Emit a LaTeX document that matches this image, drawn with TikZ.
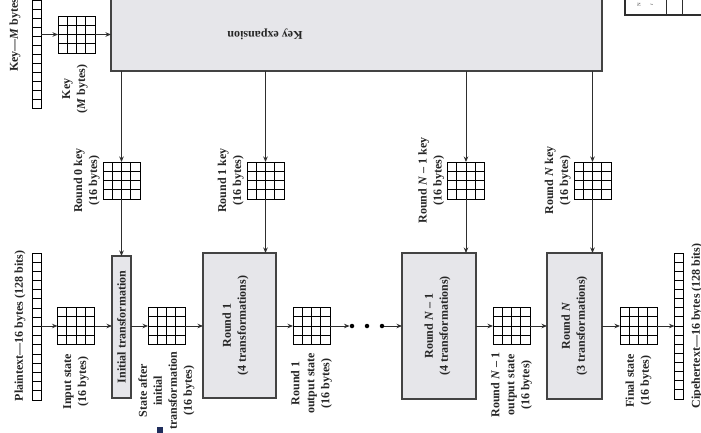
\documentclass[tikz,border=0pt]{standalone}
\usepackage{fontspec}
\setmainfont{Liberation Serif}
\usetikzlibrary{arrows.meta,calc}
\definecolor{boxgray}{HTML}{E6E6EA}
\definecolor{ink}{HTML}{2E2E2E}
\definecolor{navymark}{HTML}{1F2D5C}
\begin{document}
\begin{tikzpicture}[x=1pt,y=-1pt,
  conn/.style={draw=ink, line width=0.9pt},
  arr/.style={conn, -{Stealth[length=5.5pt,width=4.5pt]}},
  stage/.style={draw=ink!90, line width=1.4pt, fill=boxgray, inner sep=0pt, outer sep=0pt},
  lbl/.style={font=\fontsize{12}{15}\selectfont\bfseries, rotate=90, align=center, inner sep=0pt, text=black!85},
  % 4x4 state matrix
  state/.style={draw=black, line width=1pt, minimum size=37pt, inner sep=0pt, outer sep=0pt,
    path picture={
      \foreach \t in {0.25,0.5,0.75} {
        \draw[line width=1pt]
          ($(path picture bounding box.north west)!\t!(path picture bounding box.north east)$) --
          ($(path picture bounding box.south west)!\t!(path picture bounding box.south east)$);
        \draw[line width=1pt]
          ($(path picture bounding box.north west)!\t!(path picture bounding box.south west)$) --
          ($(path picture bounding box.north east)!\t!(path picture bounding box.south east)$);
      }}},
  % column of byte cells: #1 = height, #2 = number of cells
  bytes/.style 2 args={draw=black, line width=1pt, minimum width=9pt, minimum height=#1,
    inner sep=0pt, outer sep=0pt,
    path picture={
      \foreach \k in {1,...,#2} {
        \draw[line width=1pt]
          ($(path picture bounding box.north west)!\k/#2!(path picture bounding box.south west)$) --
          ($(path picture bounding box.north east)!\k/#2!(path picture bounding box.south east)$);
      }}},
  dot/.style={circle, fill=black, inner sep=0pt, minimum size=4.5pt},
]
\useasboundingbox (0,0) rectangle (701,432);

% ---------- key schedule ----------
\node[bytes={117pt}{13}] (kc) at (36.5,49.5) {};
\node[lbl, anchor=west] (kcl) at (15,72) {Key—\textit{M} bytes};
\node[state] (kg) at (76.5,34.5) {};
\node[lbl] (kgl) at (75,89) {Key\\(\textit{M} bytes)};
\node[stage, minimum width=491pt, minimum height=77pt] (ke) at (356.5,32.5) {};
\node[lbl, rotate=90] (kel) at (265,34) {Key expansion};

\node[state] (k0) at (121.5,180.5) {};
\node[state] (k1) at (265.5,180.5) {};
\node[state] (kn1) at (466,180.5) {};
\node[state] (kn) at (592.5,180.5) {};
\node[lbl, anchor=south] (k0l) at ($(k0.west)+(-3,0)$) {Round 0 key\\(16 bytes)};
\node[lbl, anchor=south] (k1l) at ($(k1.west)+(-3,0)$) {Round 1 key\\(16 bytes)};
\node[lbl, anchor=south] (kn1l) at ($(kn1.west)+(-3,0)$) {Round \textit{N} – 1 key\\(16 bytes)};
\node[lbl, anchor=south] (knl) at ($(kn.west)+(-3,0)$) {Round \textit{N} key\\(16 bytes)};

% ---------- data path ----------
\node[bytes={147pt}{16}] (pt) at (36.5,326.5) {};
\node[lbl] (ptl) at (20,326) {Plaintext—16 bytes (128 bits)};
\node[state] (in) at (76,326) {};
\node[lbl, anchor=east] (inl) at ($(in.south)+(0,9)$) {Input state\\(16 bytes)};
\node[stage, minimum width=19pt, minimum height=142pt] (init) at (121.5,327) {};
\node[lbl] (initl) at (init.center) {Initial transformation};
\node[state] (s0) at (166.5,326) {};
\node[lbl, anchor=east] (s0l) at ($(s0.south)+(0,7)$) {State after\\initial\\transformation\\(16 bytes)};
\node[stage, minimum width=73pt, minimum height=145pt] (r1) at (239.5,325.5) {};
\node[lbl] (r1l) at ($(r1.center)+(-4,0)$) {Round 1\\(4 transformations)};
\node[state] (o1) at (311.5,326) {};
\node[lbl, anchor=east] (o1l) at ($(o1.south)+(0,8)$) {Round 1\\output state\\(16 bytes)};
\node[dot] (d1) at (352,326) {};
\node[dot] (d2) at (367,326) {};
\node[dot] (d3) at (382,326) {};
\node[stage, minimum width=74pt, minimum height=146pt] (rn1) at (439,326) {};
\node[lbl] (rn1l) at ($(rn1.center)+(-1.5,0)$) {Round \textit{N} – 1\\(4 transformations)};
\node[state] (on1) at (511.5,326) {};
\node[lbl, anchor=east] (on1l) at ($(on1.south)+(0,8)$) {Round \textit{N} – 1\\output state\\(16 bytes)};
\node[stage, minimum width=55pt, minimum height=146pt] (rn) at (574.5,326) {};
\node[lbl] (rnl) at (rn.center) {Round \textit{N}\\(3 transformations)};
\node[state] (fs) at (638.5,326) {};
\node[lbl, anchor=east] (fsl) at ($(fs.south)+(0,9)$) {Final state\\(16 bytes)};
\node[bytes={146pt}{16}] (ct) at (679,326) {};
\node[lbl] (ctl) at (697,326) {Cipehertext—16 bytes (128 bits)};

% ---------- connectors ----------
\draw[arr] (kc.east |- kg.west) -- (kg.west);
\draw[arr] (kg.east) -- (kg.east -| ke.west);
\foreach \k/\r in {k0/init, k1/r1, kn1/rn1, kn/rn} {
  \draw[arr] (ke.south -| \k.north) -- (\k.north);
  \draw[arr] (\k.south) -- (\k.south |- \r.north);
}
\draw[arr] (pt.east |- in.west) -- (in.west);
\draw[arr] (in.east) -- (in.east -| init.west);
\draw[arr] (in.east -| init.east) -- (s0.west);
\draw[arr] (s0.east) -- (s0.east -| r1.west);
\draw[arr] (s0.east -| r1.east) -- (o1.west);
\draw[arr] (o1.east) -- (d1.west);
\draw[arr] (d3) -- (d3 -| rn1.west);
\draw[arr] (d3 -| rn1.east) -- (on1.west);
\draw[arr] (on1.east) -- (on1.east -| rn.west);
\draw[arr] (on1.east -| rn.east) -- (fs.west);
\draw[arr] (fs.east) -- (fs.east -| ct.west);

% ---------- edge of the rounds table ----------
\draw[ink, line width=1.3pt] (625,-5) rectangle (706,15);
\draw[ink, line width=1pt] (666,-5) -- (666,15) (682,-5) -- (682,15);
\node[font=\fontsize{5}{6}\selectfont, rotate=90, inner sep=0pt, text=black!70] (tn) at (639,5) {N};
\node[font=\fontsize{5}{6}\selectfont, rotate=90, inner sep=0pt, text=black!70] (tr) at (652,5) {r};

% ---------- small mark on the lower edge ----------
\fill[navymark] (157,427) rectangle (163,433);
\end{tikzpicture}
\end{document}
